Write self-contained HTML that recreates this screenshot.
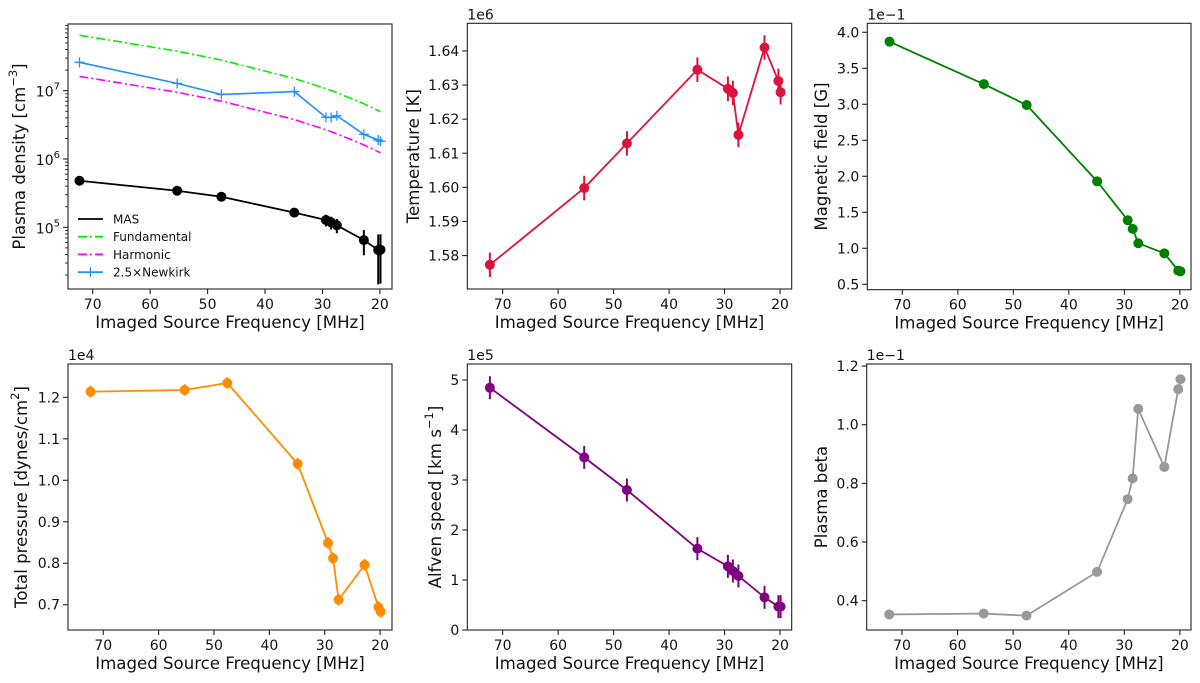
<!DOCTYPE html>
<html><head><meta charset="utf-8"><style>
html,body{margin:0;padding:0;background:#fff;}
svg{display:block;font-family:"DejaVu Sans","Liberation Sans",sans-serif;}
</style></head><body>
<svg id="fig" width="1200" height="683" viewBox="0 0 1200 683" xmlns="http://www.w3.org/2000/svg"></svg>
<script>
const freqs = [72.3, 55.3, 47.6, 34.9, 29.4, 28.5, 27.5, 22.8, 20.3, 19.9];
const densityMas = [4.8e5, 3.43e5, 2.8e5, 1.64e5, 1.28e5, 1.18e5, 1.07e5, 6.5e4, 4.66e4, 4.7e4];
const densityMasErr = [1.5e4, 1.5e4, 1.5e4, 2e4, 2.5e4, 2.5e4, 2.5e4, 2.6e4, 3.2e4, 3.2e4];
const fundamental = [6.48e7, 3.79e7, 2.81e7, 1.51e7, 1.072e7, 1.007e7, 9.38e6, 6.45e6, 5.11e6, 4.91e6];
const harmonic = [1.62e7, 9.48e6, 7.03e6, 3.78e6, 2.68e6, 2.52e6, 2.34e6, 1.61e6, 1.28e6, 1.23e6];
const newkirk = [2.6e7, 1.28e7, 8.8e6, 9.7e6, 4.07e6, 4.05e6, 4.3e6, 2.29e6, 1.9e6, 1.82e6];
const temperature = [1.5773, 1.5998, 1.6129, 1.6345, 1.6289, 1.6277, 1.6154, 1.6410, 1.6312, 1.6279];
const temperatureErr = [0.0036, 0.0036, 0.0036, 0.0036, 0.0036, 0.0036, 0.0036, 0.0036, 0.0036, 0.0036];
const bfield = [3.87, 3.28, 2.99, 1.93, 1.39, 1.27, 1.07, 0.93, 0.69, 0.68];
const bfieldErr = [0.06, 0.06, 0.06, 0.06, 0.06, 0.06, 0.06, 0.06, 0.06, 0.06];
const pressure = [1.2137, 1.2177, 1.2346, 1.0400, 0.849, 0.812, 0.712, 0.796, 0.694, 0.683];
const pressureErr = [0.014, 0.014, 0.014, 0.014, 0.014, 0.014, 0.014, 0.014, 0.014, 0.014];
const alfven = [4.846, 3.453, 2.80, 1.627, 1.273, 1.18, 1.08, 0.653, 0.467, 0.467];
const alfvenErr = [0.23, 0.23, 0.23, 0.23, 0.23, 0.23, 0.23, 0.23, 0.23, 0.23];
const beta = [0.353, 0.356, 0.349, 0.498, 0.746, 0.817, 1.054, 0.856, 1.121, 1.155];
const xTicks = [70, 60, 50, 40, 30, 20];
const densityTickExp = [5, 6, 7];
const temperatureTicks = [1.58, 1.59, 1.60, 1.61, 1.62, 1.63, 1.64];
const bfieldTicks = [0.5, 1.0, 1.5, 2.0, 2.5, 3.0, 3.5, 4.0];
const pressureTicks = [0.7, 0.8, 0.9, 1.0, 1.1, 1.2];
const alfvenTicks = [0, 1, 2, 3, 4, 5];
const betaTicks = [0.4, 0.6, 0.8, 1.0, 1.2];
const legendLabels = ["MAS", "Fundamental", "Harmonic", "2.5×Newkirk"];

const NS = "http://www.w3.org/2000/svg";
const fig = document.getElementById('fig');
function mk(tag, attrs, parent) {
  const e = document.createElementNS(NS, tag);
  for (const k in attrs) e.setAttribute(k, attrs[k]);
  (parent || fig).appendChild(e);
  return e;
}

function makePanel(name, L, T, R, B, x0, x1, y0, y1, log) {
  const g = mk('g', {});
  
  
  const sx = v => L + (x0 - v) / (x0 - x1) * (R - L);
  const sy = v => { const t = log ? Math.log10(v) : v; return B - (t - y0) / (y1 - y0) * (B - T); };
  return {g, sx, sy, L, T, R, B};
}

function frame(p) {
  const r = mk('rect', {x: p.L, y: p.T, width: p.R - p.L, height: p.B - p.T, fill: 'none', stroke: '#222', 'stroke-width': 1.1}, p.g);
  
  
}

function xAxis(p) {
  const ax = mk('g', {}, p.g);
  
  
  xTicks.forEach(v => {
    const x = p.sx(v);
    mk('line', {x1: x, x2: x, y1: p.B, y2: p.B + 5, stroke: '#222', 'stroke-width': 1.1}, ax);
    const t = mk('text', {x: x, y: p.B + 20, 'font-size': 14, 'text-anchor': 'middle', fill: '#111'}, ax);
    t.textContent = String(v);
    
    
  });
  const lab = mk('text', {x: (p.L + p.R) / 2, y: p.B + 39, 'font-size': 16.6, 'text-anchor': 'middle', fill: '#111'}, ax);
  lab.textContent = 'Imaged Source Frequency [MHz]';
  
  
}

function yAxis(p, ticks, fmt, labelX, labelParts, offsetText) {
  const ax = mk('g', {}, p.g);
  
  
  ticks.forEach(v => {
    const y = p.sy(v);
    mk('line', {x1: p.L - 5, x2: p.L, y1: y, y2: y, stroke: '#222', 'stroke-width': 1.1}, ax);
    const t = mk('text', {x: p.L - 8, y: y + 5, 'font-size': 14, 'text-anchor': 'end', fill: '#111'}, ax);
    t.textContent = fmt(v);
    
    
  });
  const cy = (p.T + p.B) / 2;
  const lab = mk('text', {x: labelX, y: cy, 'font-size': 16.6, 'text-anchor': 'middle', fill: '#111', transform: 'rotate(-90 ' + labelX + ' ' + cy + ')', 'dominant-baseline': 'middle'}, ax);
  labelParts.forEach(part => {
    const ts = mk('tspan', part[1] ? {'baseline-shift': 'super', 'font-size': 11.5} : {}, lab);
    ts.textContent = part[0];
  });
  
  
  if (offsetText) {
    const o = mk('text', {x: p.L, y: p.T - 4, 'font-size': 14, fill: '#111'}, ax);
    o.textContent = offsetText;
    
    
  }
}

function series(p, ys, errs, color, name, opts) {
  opts = opts || {};
  const g = mk('g', {}, p.g);
  
  
  const pts = freqs.map((f, i) => p.sx(f).toFixed(2) + ',' + p.sy(ys[i]).toFixed(2)).join(' ');
  const pl = mk('polyline', {points: pts, fill: 'none', stroke: color, 'stroke-width': opts.lw || 1.8, 'stroke-dasharray': opts.dash || 'none'}, g);
  
  
  if (errs) freqs.forEach((f, i) => {
    const x = p.sx(f);
    const e = mk('line', {x1: x, x2: x, y1: p.sy(ys[i] + errs[i]), y2: Math.min(p.sy(Math.max(ys[i] - errs[i], 1e-9)), p.B), stroke: color, 'stroke-width': 2}, g);
    
    
  });
  if (opts.marker === 'o') freqs.forEach((f, i) => {
    const c = mk('circle', {cx: p.sx(f), cy: p.sy(ys[i]), r: 5, fill: color}, g);
    
    
  });
  if (opts.marker === '+') freqs.forEach((f, i) => {
    const x = p.sx(f), y = p.sy(ys[i]);
    const c = mk('path', {d: 'M' + (x - 5) + ',' + y + 'H' + (x + 5) + 'M' + x + ',' + (y - 5) + 'V' + (y + 5), stroke: color, 'stroke-width': 1.3, fill: 'none'}, g);
    
    
  });
}

// Panel 1: density (log)
const p1 = makePanel('density-panel', 68, 24, 392, 289, 74.3, 17.9, 4.097, 7.976, true);
series(p1, fundamental, null, '#00ee00', 'fundamental-series', {dash: '9 3 2 3', lw: 1.6});
series(p1, harmonic, null, '#ff00ff', 'harmonic-series', {dash: '9 3 2 3', lw: 1.6});
series(p1, newkirk, null, '#1e90ff', 'newkirk-series', {marker: '+', lw: 1.6});
series(p1, densityMas, densityMasErr, '#000', 'mas-series', {marker: 'o'});
frame(p1);
xAxis(p1);
(function(){
  const ax = mk('g', {}, p1.g);
  
  
  for (let e = 4; e <= 7; e++) for (let m = 2; m <= 9; m++) {
    const v = m * Math.pow(10, e); const y = p1.sy(v);
    if (y < p1.T || y > p1.B) continue;
    mk('line', {x1: p1.L - 3, x2: p1.L, y1: y, y2: y, stroke: '#222', 'stroke-width': 0.9}, ax);
  }
  densityTickExp.forEach(e => {
    const y = p1.sy(Math.pow(10, e));
    mk('line', {x1: p1.L - 5, x2: p1.L, y1: y, y2: y, stroke: '#222', 'stroke-width': 1.1}, ax);
    const t = mk('text', {x: p1.L - 8, y: y + 6, 'font-size': 14, 'text-anchor': 'end', fill: '#111'}, ax);
    const a = mk('tspan', {}, t); a.textContent = '10';
    const b = mk('tspan', {'font-size': 10, dy: -7}, t); b.textContent = String(e);
    
    
  });
  const cy = (p1.T + p1.B) / 2;
  const lab = mk('text', {x: 20, y: cy, 'font-size': 16.6, 'text-anchor': 'middle', 'dominant-baseline': 'middle', fill: '#111', transform: 'rotate(-90 20 ' + cy + ')'}, ax);
  const t1 = mk('tspan', {}, lab); t1.textContent = 'Plasma density [cm';
  const t2 = mk('tspan', {'baseline-shift': 'super', 'font-size': 11.5}, lab); t2.textContent = '−3';
  const t3 = mk('tspan', {}, lab); t3.textContent = ']';
  
  
})();
// legend
(function(){
  const lg = mk('g', {}, p1.g);
  
  
  const cols = ['#000', '#00ee00', '#ff00ff', '#1e90ff'];
  const dashes = ['none', '9 3 2 3', '9 3 2 3', 'none'];
  legendLabels.forEach((s, i) => {
    const y = 219 + i * 17.7;
    const e = mk('g', {}, lg);
    
    
    mk('line', {x1: 78, x2: 103, y1: y, y2: y, stroke: cols[i], 'stroke-width': 1.8, 'stroke-dasharray': dashes[i]}, e);
    if (i === 3) mk('path', {d: 'M85.5,' + y + 'H95.5M90.5,' + (y - 5) + 'V' + (y + 5), stroke: cols[i], 'stroke-width': 1.3}, e);
    const t = mk('text', {x: 113, y: y + 4.5, 'font-size': 12, fill: '#111'}, e);
    t.textContent = s;
  });
})();

// Panel 2: temperature
const p2 = makePanel('temperature-panel', 467.3, 23.3, 791.7, 289, 76.37, 17.9, 1.5702, 1.6481, false);
series(p2, temperature, temperatureErr, '#dc143c', 'temperature-series', {marker: 'o'});
frame(p2); xAxis(p2);
yAxis(p2, temperatureTicks, v => v.toFixed(2), 414, [['Temperature [K]']], '1e6');

// Panel 3: magnetic field
const p3 = makePanel('magnetic-field-panel', 867.3, 23.3, 1191, 289.7, 76.3, 18.0, 0.425, 4.125, false);
series(p3, bfield, bfieldErr, '#008000', 'bfield-series', {marker: 'o'});
frame(p3); xAxis(p3);
yAxis(p3, bfieldTicks, v => v.toFixed(1), 822, [['Magnetic field [G]']], '1e−1');

// Panel 4: pressure
const p4 = makePanel('pressure-panel', 68, 364, 392, 630, 76.37, 17.85, 0.639, 1.2804, false);
series(p4, pressure, pressureErr, '#ff8c00', 'pressure-series', {marker: 'o'});
frame(p4); xAxis(p4);
yAxis(p4, pressureTicks, v => v.toFixed(1), 22, [['Total pressure [dynes/cm'], ['2', true], [']']], '1e4');

// Panel 5: Alfven
const p5 = makePanel('alfven-panel', 467.3, 364, 791.7, 630, 76.37, 17.9, 0, 5.32, false);
series(p5, alfven, alfvenErr, '#800080', 'alfven-series', {marker: 'o'});
frame(p5); xAxis(p5);
yAxis(p5, alfvenTicks, v => String(v), 436, [['Alfven speed [km s'], ['−1', true], [']']], '1e5');

// Panel 6: beta
const p6 = makePanel('beta-panel', 866.7, 364, 1191, 630, 76.35, 18.0, 0.3, 1.207, false);
series(p6, beta, null, '#999999', 'beta-series', {marker: 'o'});
frame(p6); xAxis(p6);
yAxis(p6, betaTicks, v => v.toFixed(1), 822, [['Plasma beta']], '1e−1');
</script>
</body></html>
